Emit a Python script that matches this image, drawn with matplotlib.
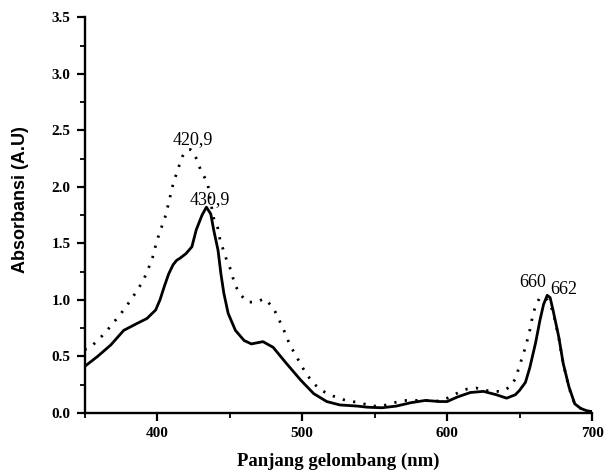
import matplotlib
matplotlib.use("Agg")
import matplotlib.pyplot as plt
from matplotlib.ticker import MultipleLocator, FormatStrFormatter

solid_x = [350, 359, 368, 377, 386, 393, 399, 402, 405, 408, 411, 413.5, 416, 420, 424, 427,
           431, 434, 437, 439, 442, 444, 446, 449, 454, 460, 465, 469, 473, 480, 489, 499, 508,
           517, 526, 538, 545, 555, 565, 575, 585, 595, 600, 607, 616, 625, 634, 641, 647, 650,
           654, 657, 661, 664, 666.5, 669, 671, 673, 677, 680, 684, 688, 692, 696, 700]
solid_y = [0.41, 0.50, 0.60, 0.73, 0.79, 0.835, 0.91, 1.00, 1.12, 1.23, 1.31, 1.35, 1.37, 1.41,
           1.47, 1.62, 1.75, 1.82, 1.76, 1.62, 1.44, 1.23, 1.06, 0.88, 0.73, 0.64, 0.61, 0.62,
           0.63, 0.58, 0.44, 0.29, 0.17, 0.10, 0.07, 0.06, 0.05, 0.045, 0.06, 0.09, 0.11, 0.10,
           0.10, 0.14, 0.18, 0.19, 0.16, 0.13, 0.16, 0.20, 0.27, 0.40, 0.62, 0.82, 0.96, 1.04,
           1.02, 0.91, 0.67, 0.44, 0.23, 0.08, 0.04, 0.02, 0.01]

dot_x = [350, 353, 359, 365, 369, 374, 378, 382.5, 386, 390, 392.5, 395, 397, 400, 402, 404,
         406, 408, 410, 411.5, 413.5, 415.5, 417.5, 420, 423, 425.5, 428, 430, 432.5, 435,
         436.8, 438.8, 441.6, 443.4, 445.7, 448, 450.3, 453.8, 457.2, 462.3, 468.3, 474,
         479.5, 482.5, 485.3, 487.8, 490.3, 492.9, 496.1, 499.3, 502.8, 507.1, 513.1, 519.3,
         525, 530.3, 537, 542.3, 549, 555, 560.7, 566.4, 572, 578, 585, 590.5, 596.3, 602,
         607.8, 613.6, 620, 626, 632, 637.7, 643.4, 647, 649, 651, 653, 655, 657, 659, 661,
         663.5, 666, 669, 673, 677, 680, 684, 688, 692, 696, 700]
dot_y = [0.56, 0.57, 0.64, 0.72, 0.785, 0.86, 0.93, 1.01, 1.08, 1.16, 1.23, 1.31, 1.38, 1.53,
         1.60, 1.68, 1.75, 1.86, 1.97, 2.05, 2.12, 2.20, 2.27, 2.32, 2.33, 2.30, 2.22, 2.15,
         2.09, 2.02, 1.88, 1.73, 1.65, 1.53, 1.44, 1.35, 1.28, 1.13, 1.05, 0.98, 0.98, 1.01,
         0.94, 0.87, 0.79, 0.72, 0.64, 0.57, 0.50, 0.42, 0.35, 0.27, 0.20, 0.16, 0.13, 0.11,
         0.095, 0.08, 0.06, 0.06, 0.08, 0.10, 0.11, 0.11, 0.11, 0.10, 0.11, 0.14, 0.18, 0.21,
         0.22, 0.20, 0.19, 0.19, 0.23, 0.30, 0.38, 0.46, 0.54, 0.63, 0.73, 0.86, 0.95, 1.01,
         1.03, 1.00, 0.90, 0.66, 0.44, 0.22, 0.08, 0.04, 0.02, 0.01]

peak_labels = ["420,9", "430,9", "660", "662"]
peak_pos = [(424.8, 2.42), (436.6, 1.89), (659.0, 1.15), (680.7, 1.09)]

x_label = "Panjang gelombang (nm)"
y_label = "Absorbansi (A.U)"

serif = ["Liberation Serif", "DejaVu Serif"]
sans = ["Liberation Sans", "DejaVu Sans"]
plt.rcParams['font.family'] = serif

fig = plt.figure(figsize=(6.13, 4.74), dpi=100)
ax = fig.add_axes([0.138, 0.129, 0.828, 0.8345])

ax.plot(solid_x, solid_y, color="black", lw=2.0, solid_joinstyle="round")
ax.plot(dot_x, dot_y, color="black", lw=2.0, linestyle=(0, (0.8, 3.0)))

for t, (px, py) in zip(peak_labels, peak_pos):
    ax.text(px, py, t, ha="center", va="center", fontsize=13, color="black")

ax.set_xlim(350, 700)
ax.set_ylim(0, 3.5)
ax.xaxis.set_major_locator(MultipleLocator(100))
ax.xaxis.set_minor_locator(MultipleLocator(50))
ax.yaxis.set_major_locator(MultipleLocator(0.5))
ax.yaxis.set_minor_locator(MultipleLocator(0.25))
ax.yaxis.set_major_formatter(FormatStrFormatter("%.1f"))

for s in ["top", "right"]:
    ax.spines[s].set_visible(False)
for s in ["left", "bottom"]:
    ax.spines[s].set_linewidth(1.7)

ax.tick_params(which="major", direction="out", length=6, width=1.6, labelsize=11, pad=4)
ax.tick_params(which="minor", direction="out", length=3.5, width=1.3)
for lab in ax.get_xticklabels() + ax.get_yticklabels():
    lab.set_fontweight("bold")

ax.set_xlabel(x_label, fontsize=13.5, fontweight="bold", labelpad=9)
ax.set_ylabel(y_label, fontsize=13, fontweight="bold", family=sans)
ax.yaxis.set_label_coords(-0.110, 0.538)

fig.savefig("out.png", dpi=100)
